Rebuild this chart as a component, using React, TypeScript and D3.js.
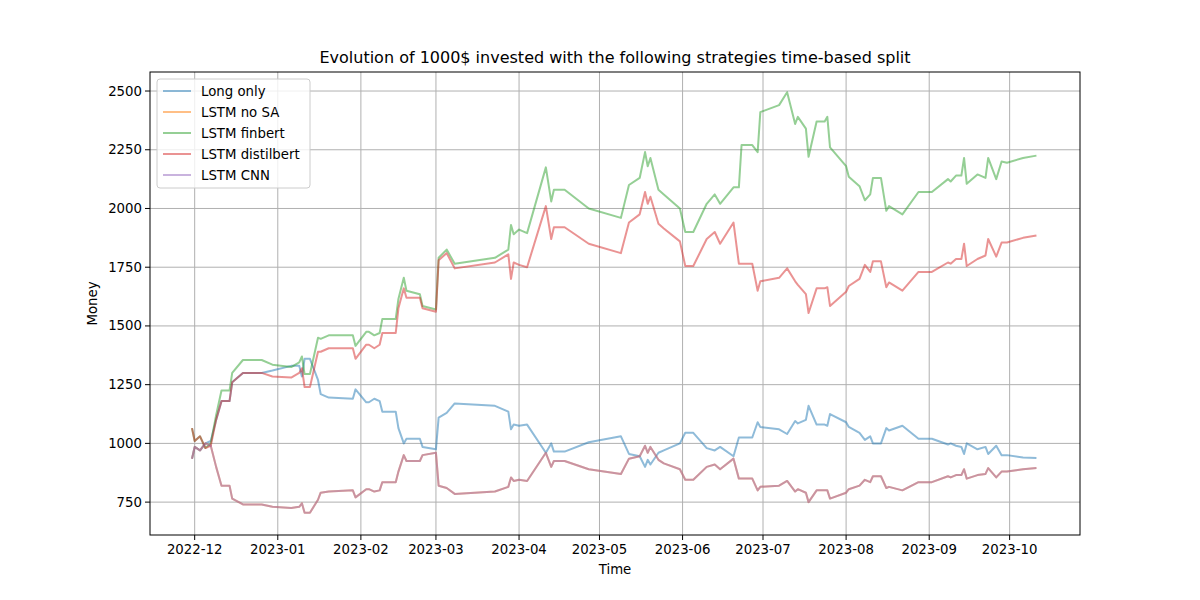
import React from "react";
import * as d3 from "d3";

const dates = [
"2022-11-30","2022-12-01","2022-12-03","2022-12-05","2022-12-07","2022-12-09","2022-12-11","2022-12-13","2022-12-14","2022-12-15","2022-12-19","2022-12-26","2022-12-30","2023-01-06","2023-01-09","2023-01-10","2023-01-11","2023-01-13","2023-01-16","2023-01-17","2023-01-20","2023-01-29","2023-01-30","2023-02-03","2023-02-04","2023-02-06","2023-02-08","2023-02-09","2023-02-14","2023-02-15","2023-02-17","2023-02-18","2023-02-23","2023-02-24","2023-03-01","2023-03-02","2023-03-05","2023-03-08","2023-03-23","2023-03-28","2023-03-29","2023-03-30","2023-04-01","2023-04-04","2023-04-11","2023-04-13","2023-04-14","2023-04-18","2023-04-27","2023-05-09","2023-05-12","2023-05-16","2023-05-18","2023-05-19","2023-05-20","2023-05-23","2023-05-25","2023-05-31","2023-06-02","2023-06-05","2023-06-10","2023-06-13","2023-06-15","2023-06-20","2023-06-22","2023-06-23","2023-06-27","2023-06-29","2023-06-30","2023-07-07","2023-07-10","2023-07-13","2023-07-14","2023-07-17","2023-07-18","2023-07-21","2023-07-24","2023-07-25","2023-07-26","2023-08-01","2023-08-02","2023-08-06","2023-08-08","2023-08-10","2023-08-11","2023-08-14","2023-08-16","2023-08-17","2023-08-22","2023-08-28","2023-09-02","2023-09-08","2023-09-09","2023-09-11","2023-09-13","2023-09-14","2023-09-15","2023-09-19","2023-09-22","2023-09-23","2023-09-26","2023-09-28","2023-09-30","2023-10-06","2023-10-11"];

const longOnly = [935,985,970,1000,1010,1100,1180,1180,1180,1260,1300,1300,1310,1330,1330,1285,1360,1360,1270,1210,1195,1190,1230,1175,1175,1190,1180,1135,1135,1065,1000,1020,1020,985,975,1110,1130,1170,1160,1135,1060,1080,1075,1080,960,1000,965,965,1005,1030,955,945,900,930,910,960,970,1000,1045,1045,980,970,985,945,1025,1025,1025,1090,1070,1060,1040,1095,1085,1100,1160,1080,1080,1075,1125,1090,1070,1045,1015,1030,1000,1000,1065,1055,1075,1020,1020,995,1000,990,985,955,1000,975,985,955,990,950,950,940,938];

const lstmNoSA = [935,985,970,1000,990,900,820,820,820,765,740,740,730,725,730,745,705,705,760,790,795,800,770,805,805,795,800,835,835,880,950,925,925,950,960,820,810,785,795,815,855,840,845,840,960,900,925,925,890,870,935,945,990,960,985,930,915,890,845,845,900,910,890,935,850,850,850,800,815,820,840,795,805,790,750,800,800,800,765,790,805,820,845,835,860,860,810,815,800,835,835,860,855,865,865,890,850,865,870,895,855,880,880,890,895];

const lstmCNN = lstmNoSA.slice();

const lstmFinbert = [1065,1010,1030,980,1000,1120,1225,1225,1225,1300,1355,1355,1335,1325,1345,1370,1295,1295,1450,1445,1460,1460,1415,1475,1475,1460,1470,1530,1530,1615,1705,1650,1635,1585,1570,1790,1825,1765,1790,1825,1930,1890,1910,1895,2175,2030,2080,2080,2000,1960,2100,2130,2240,2180,2215,2080,2060,2000,1900,1900,2020,2060,2020,2090,2090,2270,2270,2240,2410,2440,2495,2360,2390,2340,2220,2370,2370,2390,2260,2180,2135,2095,2035,2060,2130,2130,1990,2010,1975,2070,2070,2125,2115,2140,2140,2215,2105,2145,2130,2215,2125,2200,2195,2215,2225];

const lstmDistilbert = [1065,1010,1030,980,990,1100,1180,1180,1180,1260,1300,1300,1285,1280,1300,1320,1240,1240,1390,1390,1405,1405,1360,1420,1420,1405,1420,1470,1470,1575,1660,1620,1620,1575,1560,1780,1810,1745,1770,1805,1700,1770,1760,1750,2010,1870,1920,1920,1850,1810,1940,1975,2070,2020,2050,1935,1915,1860,1755,1755,1870,1900,1850,1940,1765,1765,1765,1650,1690,1705,1745,1690,1675,1635,1555,1660,1660,1665,1585,1645,1670,1700,1760,1730,1775,1775,1665,1685,1650,1730,1730,1770,1765,1785,1785,1850,1755,1785,1800,1870,1795,1855,1855,1875,1885];

const seriesNames = ["Long only","LSTM no SA","LSTM finbert","LSTM distilbert","LSTM CNN"];
const seriesData = [longOnly, lstmNoSA, lstmFinbert, lstmDistilbert, lstmCNN];
const colors = ["#1f77b4","#ff7f0e","#2ca02c","#d62728","#9467bd"];
const drawOrder = [0,1,2,3,4];
const yTicks = [750,1000,1250,1500,1750,2000,2250,2500];
const monthTicks = ["2022-12","2023-01","2023-02","2023-03","2023-04","2023-05","2023-06","2023-07","2023-08","2023-09","2023-10"];

export default function App() {
  const W = 1200, H = 600;
  const L = 150, R = 1080, T = 72, B = 535;
  const parse = d3.timeParse("%Y-%m-%d");
  const xs = dates.map(d => parse(d)!);
  const x = d3.scaleTime().domain([new Date(2022,10,14,8), new Date(2023,9,27,6)]).range([L, R]);
  const y = d3.scaleLinear().domain([610, 2581]).range([B, T]);
  const mt = monthTicks.map(m => d3.timeParse("%Y-%m")(m)!);
  const font = "DejaVu Sans, sans-serif";
  return (
    <svg width={W} height={H} style={{ position: "absolute", left: 0, top: 0 }} fontFamily={font}>
      <rect width={W} height={H} fill="#fff" />
      {mt.map((d, i) => (
        <g key={"x" + i}>
          <line x1={x(d)} x2={x(d)} y1={T} y2={B} stroke="#b0b0b0" strokeWidth={1} />
          <line x1={x(d)} x2={x(d)} y1={B} y2={B + 5} stroke="#000" strokeWidth={1} />
          <text x={x(d)} y={B + 19} fontSize={13.3} textAnchor="middle">{monthTicks[i]}</text>
        </g>
      ))}
      {yTicks.map(v => (
        <g key={"y" + v}>
          <line x1={L} x2={R} y1={y(v)} y2={y(v)} stroke="#b0b0b0" strokeWidth={1} />
          <line x1={L - 5} x2={L} y1={y(v)} y2={y(v)} stroke="#000" strokeWidth={1} />
          <text x={L - 8} y={y(v) + 4.5} fontSize={13.3} textAnchor="end">{v}</text>
        </g>
      ))}
      {drawOrder.map(si => {
        const line = d3.line<number>().x((_, i) => x(xs[i])).y(v => y(v));
        return <path key={si} d={line(seriesData[si])!} fill="none" stroke={colors[si]} strokeOpacity={0.5} strokeWidth={2} strokeLinejoin="round" />;
      })}
      <rect x={L} y={T} width={R - L} height={B - T} fill="none" stroke="#000" strokeWidth={1} />
      <text x={(L + R) / 2} y={T - 9} fontSize={16} textAnchor="middle">Evolution of 1000$ invested with the following strategies time-based split</text>
      <text x={(L + R) / 2} y={574} fontSize={13.3} textAnchor="middle">Time</text>
      <text transform={`translate(97,${(T + B) / 2}) rotate(-90)`} fontSize={13.3} textAnchor="middle">Money</text>
      <g>
        <rect x={157} y={79} width={153} height={109} rx={3} fill="#fff" fillOpacity={0.8} stroke="#ccc" />
        {seriesNames.map((n, i) => (
          <g key={n}>
            <line x1={163} x2={191} y1={91 + i * 21} y2={91 + i * 21} stroke={colors[i]} strokeOpacity={0.5} strokeWidth={2} />
            <text x={201} y={96 + i * 21} fontSize={13.3}>{n}</text>
          </g>
        ))}
      </g>
    </svg>
  );
}
